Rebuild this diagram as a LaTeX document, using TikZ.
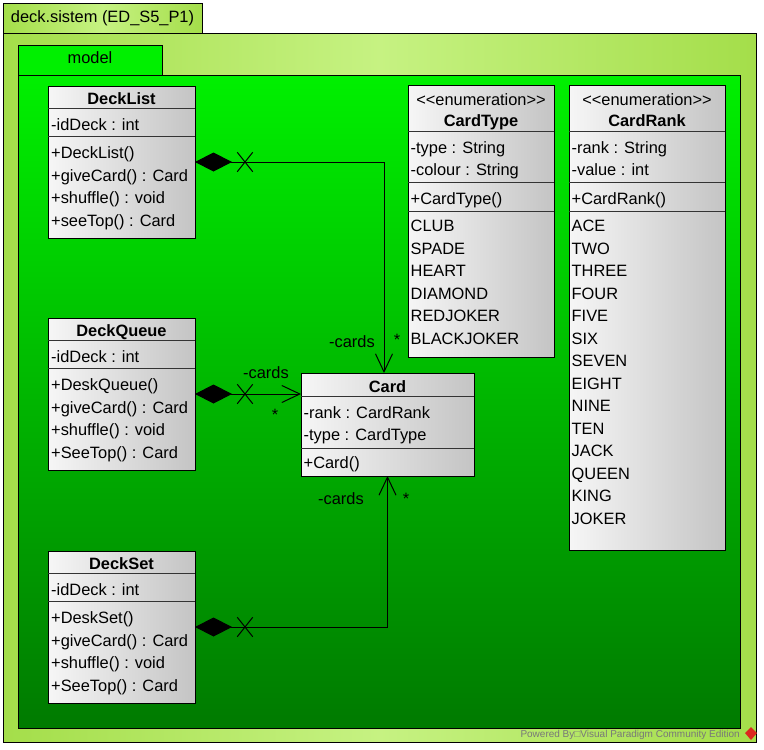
\documentclass[tikz,border=0pt]{standalone}
\usepackage{fontspec}
\setmainfont{Liberation Sans}
\usetikzlibrary{arrows.meta, positioning, shapes.misc}
\definecolor{pkglight}{RGB}{198,242,130}
\definecolor{pkgdark}{RGB}{164,222,74}
\definecolor{modeltop}{RGB}{0,240,0}
\definecolor{modelbottom}{RGB}{0,122,0}
\definecolor{boxlight}{RGB}{246,246,246}
\definecolor{boxdark}{RGB}{196,196,196}
\definecolor{vpgray}{RGB}{120,120,120}
\definecolor{vpred}{RGB}{220,40,30}
\tikzset{
  pkg/.style = {draw, line width=1pt, anchor=north west, inner sep=0pt, outer sep=0pt,
    left color=pkgdark, right color=pkgdark, middle color=pkglight},
  model/.style = {draw, line width=1pt, anchor=north west, inner sep=0pt, outer sep=0pt,
    top color=modeltop, bottom color=modelbottom},
  umlclass/.style = {draw, line width=1pt, anchor=north west, inner sep=0pt, outer sep=0pt,
    left color=boxlight, right color=boxdark},
  divider/.style = {line width=0.9pt, black!80},
  txt/.style = {inner sep=0pt, font=\fontsize{16.4}{22.5}\selectfont},
  rows/.style = {txt, anchor=north west, align=left},
  head/.style = {txt, anchor=base, font=\fontsize{16.4}{22.5}\selectfont\bfseries},
  lbl/.style = {txt, anchor=base},
  compose/.style = {line width=1pt, {Diamond[length=37pt,width=19pt]}-{Straight Barb[length=18pt,width=17pt]}},
  xmark/.style = {cross out, draw, line width=1pt, minimum width=14.5pt, minimum height=18.5pt, inner sep=0pt}
}
\begin{document}
\begin{tikzpicture}[x=1pt, y=-1pt]
\useasboundingbox (0,0) rectangle (764,750);
% packages
\node[pkg, minimum width=753pt, minimum height=709pt] (sistem) at (3,33) {};
\node[pkg, minimum width=199pt, minimum height=30pt] (sistem-tab) at (3,3) {};
\node[txt, anchor=base] (sistem-name) at (102.5,22.7) {deck.sistem (ED\_S5\_P1)};
\node[model, minimum width=722pt, minimum height=653pt] (model) at (18,75) {};
\node[model, bottom color=modeltop, minimum width=144pt, minimum height=30pt] (model-tab) at (18,45) {};
\node[txt, anchor=base] (model-name) at (90,63.3) {model};

% DeckList
\node[umlclass, minimum width=147pt, minimum height=152pt] (decklist) at (48,86) {};
\node[head] (decklist-name) at (121.5,104) {DeckList};
\draw[divider] ([yshift=-22.5pt]decklist.north west) -- ([yshift=-22.5pt]decklist.north east);
\draw[divider] ([yshift=-50.5pt]decklist.north west) -- ([yshift=-50.5pt]decklist.north east);
\node[rows] (decklist-attr) at (51,118.5) {-idDeck : int};
\node[rows] (decklist-ops) at (51,146.5) {+DeckList()\\+giveCard() : Card\\+shuffle() : void\\+seeTop() : Card};

% DeckQueue
\node[umlclass, minimum width=147pt, minimum height=152pt] (deckqueue) at (48,318) {};
\node[head] (deckqueue-name) at (121.5,336) {DeckQueue};
\draw[divider] ([yshift=-22.5pt]deckqueue.north west) -- ([yshift=-22.5pt]deckqueue.north east);
\draw[divider] ([yshift=-50.5pt]deckqueue.north west) -- ([yshift=-50.5pt]deckqueue.north east);
\node[rows] (deckqueue-attr) at (51,350.5) {-idDeck : int};
\node[rows] (deckqueue-ops) at (51,378.5) {+DeskQueue()\\+giveCard() : Card\\+shuffle() : void\\+SeeTop() : Card};

% DeckSet
\node[umlclass, minimum width=147pt, minimum height=152pt] (deckset) at (48,551) {};
\node[head] (deckset-name) at (121.5,569) {DeckSet};
\draw[divider] ([yshift=-22.5pt]deckset.north west) -- ([yshift=-22.5pt]deckset.north east);
\draw[divider] ([yshift=-50.5pt]deckset.north west) -- ([yshift=-50.5pt]deckset.north east);
\node[rows] (deckset-attr) at (51,583.5) {-idDeck : int};
\node[rows] (deckset-ops) at (51,611.5) {+DeskSet()\\+giveCard() : Card\\+shuffle() : void\\+SeeTop() : Card};

% Card
\node[umlclass, minimum width=173pt, minimum height=103pt] (card) at (301,373) {};
\node[head] (card-name) at (387.5,392) {Card};
\draw[divider] ([yshift=-23pt]card.north west) -- ([yshift=-23pt]card.north east);
\draw[divider] ([yshift=-75pt]card.north west) -- ([yshift=-75pt]card.north east);
\node[rows] (card-attr) at (303.5,406) {-rank : CardRank\\-type : CardType};
\node[rows] (card-ops) at (303.5,456) {+Card()};

% CardType
\node[umlclass, minimum width=146pt, minimum height=272pt] (cardtype) at (408,85) {};
\node[lbl] (cardtype-stereo) at (481,105) {<\kern0pt<enumeration>\kern0pt>};
\node[head] (cardtype-name) at (481,126) {CardType};
\draw[divider] ([yshift=-46pt]cardtype.north west) -- ([yshift=-46pt]cardtype.north east);
\draw[divider] ([yshift=-97pt]cardtype.north west) -- ([yshift=-97pt]cardtype.north east);
\draw[divider] ([yshift=-126pt]cardtype.north west) -- ([yshift=-126pt]cardtype.north east);
\node[rows] (cardtype-attr) at (410.5,141) {-type : String\\-colour : String};
\node[rows] (cardtype-ops) at (410.5,192) {+CardType()};
\node[rows] (cardtype-enum) at (410.5,220) {CLUB\\SPADE\\HEART\\DIAMOND\\REDJOKER\\BLACKJOKER};

% CardRank
\node[umlclass, minimum width=156pt, minimum height=465pt] (cardrank) at (569,85) {};
\node[lbl] (cardrank-stereo) at (647,105) {<\kern0pt<enumeration>\kern0pt>};
\node[head] (cardrank-name) at (647,126) {CardRank};
\draw[divider] ([yshift=-46pt]cardrank.north west) -- ([yshift=-46pt]cardrank.north east);
\draw[divider] ([yshift=-97pt]cardrank.north west) -- ([yshift=-97pt]cardrank.north east);
\draw[divider] ([yshift=-126pt]cardrank.north west) -- ([yshift=-126pt]cardrank.north east);
\node[rows] (cardrank-attr) at (571.5,141) {-rank : String\\-value : int};
\node[rows] (cardrank-ops) at (571.5,192) {+CardRank()};
\node[rows] (cardrank-enum) at (571.5,220) {ACE\\TWO\\THREE\\FOUR\\FIVE\\SIX\\SEVEN\\EIGHT\\NINE\\TEN\\JACK\\QUEEN\\KING\\JOKER};

% compositions
\draw[compose] (decklist.east) -| ([xshift=-3.5pt]card.north);
\draw[compose] (deckqueue.east) -- (card.west |- deckqueue.east);
\draw[compose] (deckset.east) -| (card.south);
\node[xmark] (decklist-x) at ([xshift=50pt]decklist.east) {};
\node[xmark] (deckqueue-x) at ([xshift=50pt]deckqueue.east) {};
\node[xmark] (deckset-x) at ([xshift=50pt]deckset.east) {};
\node[lbl] (list-role) at (352,347) {-cards};
\node[lbl] (list-mult) at (397,345) {*};
\node[lbl] (queue-role) at (266,378) {-cards};
\node[lbl] (queue-mult) at (275,420) {*};
\node[lbl] (set-role) at (341,504) {-cards};
\node[lbl] (set-mult) at (406,504) {*};

% footer
\node[anchor=base east, inner sep=0pt, font=\fontsize{10}{12}\selectfont, text=vpgray] (powered) at (740,737) {Powered By□Visual Paradigm Community Edition};
\fill[vpred] (751,727) -- (757,733) -- (751,740) -- (745,733) -- cycle;
\end{tikzpicture}
\end{document}
